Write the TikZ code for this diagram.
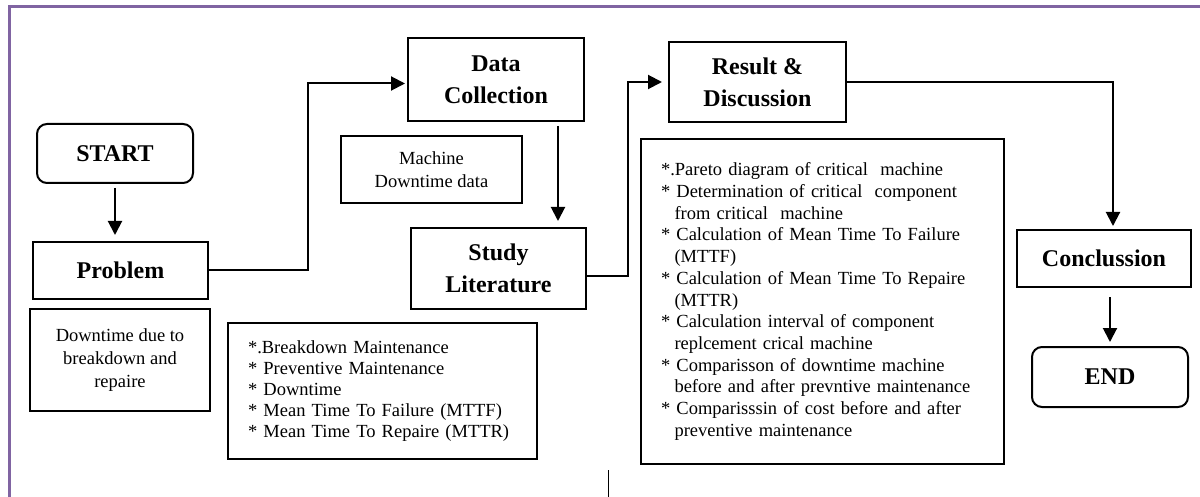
\documentclass[tikz,border=0pt]{standalone}
\usepackage{fontspec}
\setmainfont{Liberation Serif}
\usetikzlibrary{arrows.meta,calc}
\definecolor{framepurple}{HTML}{8064A2}
\newcommand{\cont}{\hspace*{13.5pt}}

\begin{document}
\begin{tikzpicture}[x=1pt, y=-1pt,
  box/.style={draw, line width=2pt, align=center, inner sep=0pt,
    font=\fontsize{24}{32}\selectfont\bfseries},
  endbox/.style={box, rounded corners=10pt},
  notebox/.style={draw, line width=2pt, align=center, inner sep=0pt,
    font=\fontsize{18.5}{23}\selectfont},
  listbox/.style={draw, line width=2pt, align=left, inner xsep=20pt, inner ysep=0pt,
    font=\fontsize{18.5}{21}\selectfont},
  link/.style={line width=2pt, -{Triangle[width=14pt,length=14pt]}}]
  \useasboundingbox (0,0) rectangle (1200,497);
  \clip (0,0) rectangle (1200,497);
  \draw[framepurple, line width=3pt] (9,7) rectangle (1230,530);

  % left column
  \node[endbox, minimum width=156pt, minimum height=59pt] (start) at (115,153.5) {START};
  \node[box, minimum width=175pt, minimum height=57pt] (prob) at (120.5,270.5) {Problem};
  \node[notebox, minimum width=180pt, minimum height=102pt] (probnote) at (120,360)
    {Downtime due to\\ breakdown and\\ repaire};

  % data and literature
  \node[box, minimum width=176pt, minimum height=83pt] (data) at (496,79.5) {Data\\ Collection};
  \node[notebox, minimum width=181pt, minimum height=67pt] (datanote) at (431.5,170)
    {Machine\\ Downtime data};
  \node[box, minimum width=175pt, minimum height=81pt] (study) at (498.5,268.5) {Study\\ Literature};
  \node[listbox, text width=269pt, minimum height=136pt] (studynote) at (382.5,391)
    {*.Breakdown Maintenance\\
     {*} Preventive Maintenance\\
     {*} Downtime\\
     {*} Mean Time To Failure (MTTF)\\
     {*} Mean Time To Repaire (MTTR)};

  % result
  \node[box, minimum width=177pt, minimum height=80pt] (res) at (757.5,82) {Result \&\\ Discussion};
  \node[listbox, font=\fontsize{18.5}{21.7}\selectfont, text width=323pt, minimum height=325pt]
    (resnote) at (822.5,301.5)
    {*.Pareto diagram of critical\ \ machine\\
     {*} Determination of critical\ \ component\\
     \cont from critical\ \ machine\\
     {*} Calculation of Mean Time To Failure\\
     \cont (MTTF)\\
     {*} Calculation of Mean Time To Repaire\\
     \cont (MTTR)\\
     {*} Calculation interval of component\\
     \cont replcement crical machine\\
     {*} Comparisson of downtime machine\\
     \cont before and after prevntive maintenance\\
     {*} Comparisssin of cost before and after\\
     \cont preventive maintenance};

  % right column
  \node[box, minimum width=174pt, minimum height=57pt] (conc) at (1104,258.5) {Conclussion};
  \node[endbox, minimum width=156pt, minimum height=60pt] (end) at (1110,377) {END};

  \draw[link, shorten <=4pt, shorten >=6pt] (start.south) -- (start.south |- prob.north);
  \draw[link, shorten >=2pt] (prob.east) -- ++(99,0) |- ([yshift=-4pt]data.west);
  \draw[link, shorten <=4pt, shorten >=6pt] ([xshift=62pt]data.south) -- ([xshift=62pt]data.south |- study.north);
  \draw[link, shorten >=6pt] ([yshift=-7.5pt]study.east) -- ++(41,0) |- (res.west);
  \draw[link, shorten >=3pt] (res.east) -| ([xshift=9pt]conc.north);
  \draw[link, shorten <=9pt, shorten >=4pt] (end.north |- conc.south) -- (end.north);

  \draw[line width=1pt] (608,470) -- (608,497);
\end{tikzpicture}
\end{document}
